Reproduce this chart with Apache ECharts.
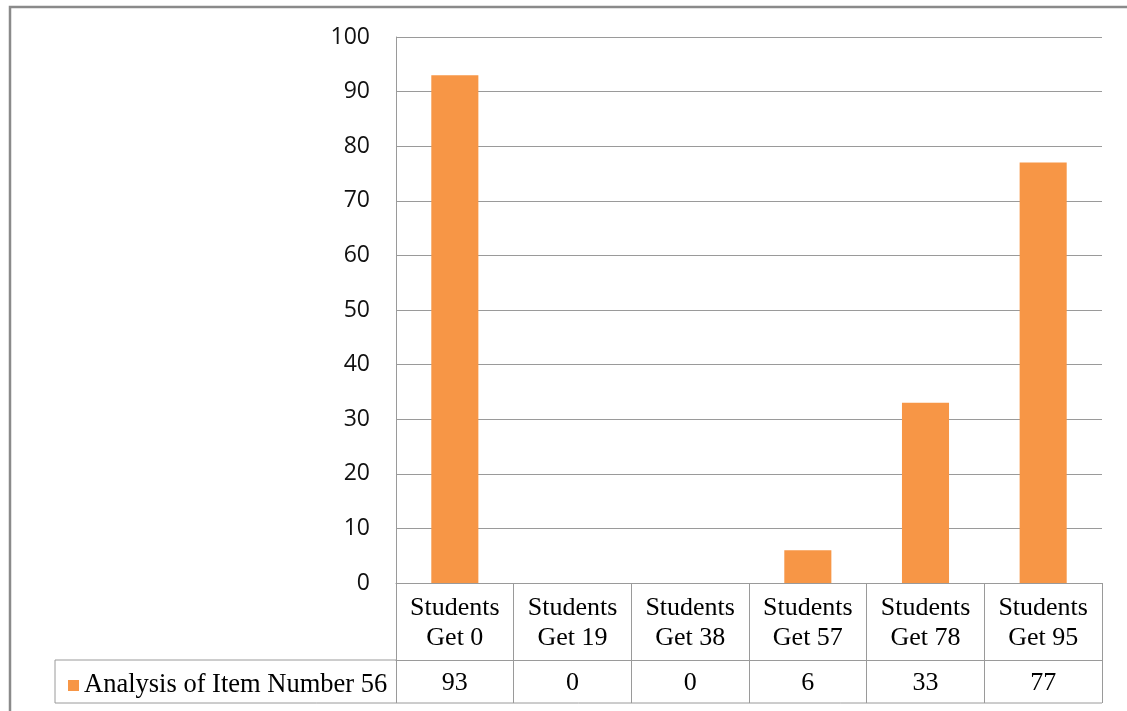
<!DOCTYPE html>
<html>
<head>
<meta charset="utf-8">
<script src="https://cdn.jsdelivr.net/npm/echarts@6.0.0/dist/echarts.min.js"></script>
<style>
  html, body { margin: 0; padding: 0; background: #fff; }
  #chart { width: 1127px; height: 711px; }
</style>
</head>
<body>
<div id="chart"></div>
<script>
// Item 56 analysis: how many students reached each score
const categories = ['Students\nGet 0', 'Students\nGet 19', 'Students\nGet 38', 'Students\nGet 57', 'Students\nGet 78', 'Students\nGet 95'];
const seriesName = 'Analysis of Item Number 56';
const values = [93, 0, 0, 6, 33, 77];
const yMin = 0;
const yMax = 100;
const yStep = 10;

const W = 1127, H = 711;
const grid = { left: 396, right: 25, top: 37, bottom: 128 };
const axisY = H - grid.bottom;          // y of the category axis line
const rowSplit = 660;                   // line between header row and value row
const tableBottom = 703;
const legendLeft = 55;
const plotRight = W - grid.right;

const lineGray = '#9a9a9a';
const serif = '"Liberation Serif", "Times New Roman", serif';
const sans = '"Open Sans", "Liberation Sans", sans-serif';

const chart = echarts.init(document.getElementById('chart'), null, { renderer: 'canvas' });

chart.setOption({
  animation: false,
  backgroundColor: '#fff',
  grid: { left: grid.left, right: grid.right, top: grid.top, bottom: grid.bottom, containLabel: false, outerBoundsMode: 'none' },
  legend: {
    left: 63, top: 667,
    icon: 'rect', itemWidth: 11, itemHeight: 11, itemGap: 5,
    textStyle: { fontFamily: serif, fontSize: 26.5, color: '#000' },
    data: [seriesName]
  },
  xAxis: [
    {
      type: 'category',
      data: categories,
      axisLine: { show: true, lineStyle: { color: lineGray, width: 1 } },
      axisTick: { show: true, inside: false, length: tableBottom - axisY, lineStyle: { color: lineGray, width: 1 } },
      axisLabel: { fontFamily: serif, fontSize: 26, color: '#000', lineHeight: 30, margin: 10, interval: 0 },
      splitLine: { show: false }
    },
    {
      // value row of the data table underneath the plot
      type: 'category',
      position: 'bottom',
      offset: rowSplit - axisY,
      data: categories,
      axisLine: { show: true, lineStyle: { color: lineGray, width: 1 } },
      axisTick: { show: false },
      axisLabel: {
        fontFamily: serif, fontSize: 26, color: '#000', margin: 10, interval: 0,
        formatter: (v, i) => String(values[i])
      },
      splitLine: { show: false }
    }
  ],
  yAxis: {
    type: 'value',
    min: yMin, max: yMax, interval: yStep,
    axisLine: { show: true, lineStyle: { color: lineGray, width: 1 } },
    axisTick: { show: false },
    axisLabel: { fontFamily: sans, fontSize: 23, color: '#111', margin: 26 },
    splitLine: { show: true, lineStyle: { color: lineGray, width: 1 } }
  },
  series: [{
    name: seriesName,
    type: 'bar',
    data: values,
    barWidth: '40%',
    itemStyle: { color: '#F79646' }
  }],
  graphic: [
    // outer chart frame
    { type: 'rect', silent: true, shape: { x: 10, y: 7, width: W + 20, height: H + 20 },
      style: { fill: null, stroke: '#8a8a8a', lineWidth: 2.5 } },
    // legend cell of the data table
    { type: 'line', silent: true, shape: { x1: legendLeft, y1: rowSplit, x2: grid.left, y2: rowSplit },
      style: { stroke: lineGray, lineWidth: 1 } },
    { type: 'line', silent: true, shape: { x1: legendLeft, y1: tableBottom, x2: plotRight, y2: tableBottom },
      style: { stroke: lineGray, lineWidth: 1 } },
    { type: 'line', silent: true, shape: { x1: legendLeft, y1: rowSplit, x2: legendLeft, y2: tableBottom },
      style: { stroke: lineGray, lineWidth: 1 } }
  ]
});
</script>
</body>
</html>
